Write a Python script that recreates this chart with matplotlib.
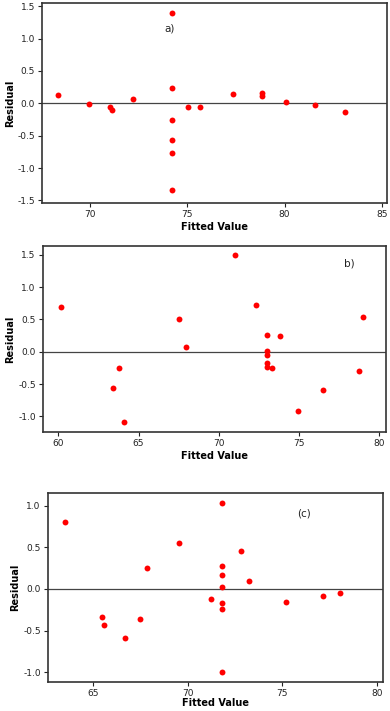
import numpy as np
import matplotlib
matplotlib.use('Agg')
import matplotlib.pyplot as plt

# panel a) residuals vs fitted values
a_fit = [68.34, 69.97, 71.03, 71.11, 72.23, 74.21, 74.21, 74.21, 74.21, 74.21, 74.21,
         75.02, 75.67, 77.35, 78.82, 78.85, 80.07, 81.58, 83.12]
a_res = [0.13, -0.015, -0.06, -0.11, 0.067, 1.39, 0.24, -0.26, -0.57, -0.77, -1.335,
         -0.05, -0.05, 0.15, 0.16, 0.11, 0.026, -0.026, -0.14]

# panel b)
b_fit = [60.17, 63.39, 63.78, 64.11, 67.52, 67.97, 71.0, 72.29, 73.0, 73.0, 73.0,
         73.0, 73.0, 73.29, 73.79, 74.95, 76.47, 78.73, 78.98]
b_res = [0.69, -0.56, -0.247, -1.08, 0.50, 0.077, 1.49, 0.73, 0.267, 0.01, -0.046,
         -0.17, -0.23, -0.257, 0.237, -0.92, -0.59, -0.29, 0.545]

# panel (c)
c_fit = [63.48, 65.48, 65.56, 66.69, 67.45, 67.82, 69.55, 71.23, 71.83, 71.83, 71.83,
         71.83, 71.83, 71.83, 71.83, 72.83, 73.24, 75.22, 77.14, 78.06]
c_res = [0.80, -0.34, -0.43, -0.585, -0.36, 0.253, 0.55, -0.126, 1.03, 0.27, 0.166,
         0.02, -0.17, -0.237, -1.0, 0.46, 0.10, -0.158, -0.087, -0.05]

panels = [
    dict(x=a_fit, y=a_res, pos=[0.1077, 0.7145, 0.8843, 0.2813],
         xlim=(67.53, 85.26), ylim=(-1.54, 1.55),
         xt=[70, 75, 80, 85], yt=np.arange(-1.5, 1.51, 0.5),
         label='a)', lx=74.1, ly=1.16, lp=2),
    dict(x=b_fit, y=b_res, pos=[0.1095, 0.3924, 0.8802, 0.262],
         xlim=(59.03, 80.42), ylim=(-1.24, 1.64),
         xt=[60, 65, 70, 75, 80], yt=np.arange(-1.0, 1.51, 0.5),
         label='b)', lx=78.13, ly=1.37, lp=2),
    dict(x=c_fit, y=c_res, pos=[0.1223, 0.041, 0.859, 0.2652],
         xlim=(62.59, 80.32), ylim=(-1.115, 1.147),
         xt=[65, 70, 75, 80], yt=np.arange(-1.0, 1.01, 0.5),
         label='(c)', lx=76.15, ly=0.905, lp=0.5),
]

fig = plt.figure(figsize=(3.9, 7.11), dpi=100)

for p in panels:
    ax = fig.add_axes(p['pos'])
    ax.axhline(0, color='#444444', lw=0.9, zorder=1)
    ax.scatter(p['x'], p['y'], s=18, color='#ff0000', zorder=3, linewidths=0)
    ax.set_xlim(p['xlim'])
    ax.set_ylim(p['ylim'])
    ax.set_xticks(p['xt'])
    ax.set_yticks(p['yt'])
    ax.set_yticklabels(['%.1f' % v for v in p['yt']])
    ax.tick_params(labelsize=6.5, length=3, width=0.8, colors='#222222', pad=2)
    for s in ax.spines.values():
        s.set_linewidth(1.2)
        s.set_color('#333333')
    ax.set_xlabel('Fitted Value', fontsize=7, fontweight='bold', labelpad=p['lp'])
    ax.set_ylabel('Residual', fontsize=7, fontweight='bold', labelpad=2)
    ax.text(p['lx'], p['ly'], p['label'], fontsize=7.5, ha='center', va='center', color='#222222')

plt.savefig('out.png', dpi=100)
